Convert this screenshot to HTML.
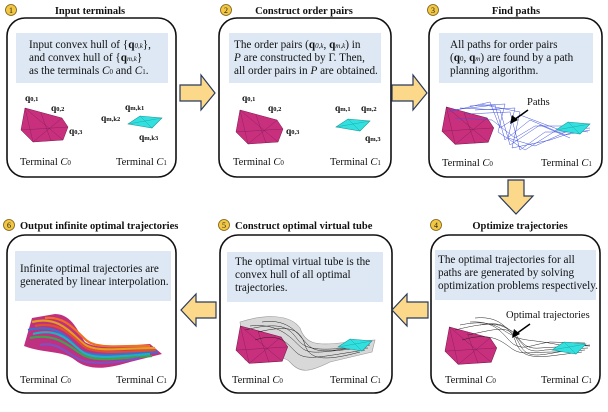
<!DOCTYPE html>
<html><head><meta charset="utf-8"><style>
body{margin:0;background:#fff}
svg{display:block;font-family:"Liberation Serif",serif}
.t{font-size:11.2px;fill:#111}
.h{font-size:10.5px;font-weight:bold;fill:#111}
.s{font-size:9.5px;fill:#111;font-weight:bold}
.l{font-size:10.5px;fill:#111}
</style></head><body>
<svg width="608" height="412" viewBox="0 0 608 412" xmlns="http://www.w3.org/2000/svg">
<defs>
<g id="mag"><polygon points="4,0 41,10 47,19 42,32 12,34 0,22" fill="#c8307e" stroke="#7a1a50" stroke-width="0.5"/><path d="M4,0 L42,32 M41,10 L12,34 M0,22 L47,19 M4,0 L12,34 M20,5 L30,33" stroke="#7a1a50" stroke-width="0.35" fill="none"/></g>
<g id="cy"><polygon points="0,10 12,2 34,4 24,14" fill="#33e0e0" stroke="#1a9a9a" stroke-width="0.6"/><path d="M0,10 L34,4 M12,2 L24,14" stroke="#1a9a9a" stroke-width="0.4"/></g>
</defs>
<g fill="none" stroke="#111" stroke-width="1.6">
<rect x="7" y="18" width="169" height="159" rx="18"/>
<rect x="219" y="18" width="172" height="159" rx="18"/>
<rect x="429" y="18" width="173" height="159" rx="18"/>
<rect x="7" y="235" width="169" height="158" rx="18"/>
<rect x="220" y="235" width="172" height="158" rx="18"/>
<rect x="431" y="235" width="169" height="158" rx="18"/>
</g>
<g fill="#dde8f4">
<rect x="16" y="33" width="152" height="50"/>
<rect x="229" y="33" width="152" height="50"/>
<rect x="439" y="33" width="154" height="50"/>
<rect x="15" y="251" width="156" height="50"/>
<rect x="227" y="252" width="156" height="50"/>
<rect x="435" y="250" width="161" height="50"/>
</g>
<g fill="#fbd88a" stroke="#2a3a5a" stroke-width="1.2">
<polygon points="180,85 201,85 201,75 215,93 201,110 201,101 180,101"/>
<polygon points="392,85 413,85 413,75 427,93 413,110 413,101 392,101"/>
<polygon points="508,180 524,180 524,196 533,196 516,214 499,196 508,196"/>
<polygon points="428,302 407,302 407,294 392,310 407,326 407,318 428,318"/>
<polygon points="216,302 196,302 196,294 181,310 196,326 196,318 216,318"/>
</g>
<g fill="#f2c744" stroke="#7a5a10" stroke-width="0.8">
<circle cx="11" cy="10" r="5.5"/><circle cx="226" cy="10" r="5.5"/><circle cx="433" cy="10" r="5.5"/>
<circle cx="9" cy="225" r="5.5"/><circle cx="224" cy="225" r="5.5"/><circle cx="436" cy="225" r="5.5"/>
</g>
<g font-size="8" text-anchor="middle" fill="#222">
<text x="11" y="13">1</text><text x="226" y="13">2</text><text x="433" y="13">3</text>
<text x="9" y="228">6</text><text x="224" y="228">5</text><text x="436" y="228">4</text>
</g>
<text class="h" x="90" y="14" text-anchor="middle">Input terminals</text>
<text class="h" x="304" y="14" text-anchor="middle">Construct order pairs</text>
<text class="h" x="516" y="14" text-anchor="middle">Find paths</text>
<text class="h" x="20" y="229">Output infinite optimal trajectories</text>
<text class="h" x="235" y="229">Construct optimal virtual tube</text>
<text class="h" x="520" y="229" text-anchor="middle">Optimize trajectories</text>
<text class="t" x="29" y="48">Input convex hull of {<tspan font-weight="bold">q</tspan><tspan font-size="7" font-style="italic">0,k</tspan>},</text>
<text class="t" x="29" y="61">and convex hull of {<tspan font-weight="bold">q</tspan><tspan font-size="7" font-style="italic">m,k</tspan>}</text>
<text class="t" x="29" y="74">as the terminals <tspan font-style="italic">C</tspan><tspan font-size="7">0</tspan> and <tspan font-style="italic">C</tspan><tspan font-size="7">1</tspan>.</text>
<text class="t" x="234" y="48">The order pairs (<tspan font-weight="bold">q</tspan><tspan font-size="7" font-style="italic">0,k</tspan>, <tspan font-weight="bold">q</tspan><tspan font-size="7" font-style="italic">m,k</tspan>) in</text>
<text class="t" x="234" y="61"><tspan font-style="italic">P</tspan> are constructed by Γ. Then,</text>
<text class="t" x="234" y="74">all order pairs in <tspan font-style="italic">P</tspan> are obtained.</text>
<text class="t" x="450" y="48">All paths for order pairs</text>
<text class="t" x="450" y="61">(<tspan font-weight="bold">q</tspan><tspan font-size="7">0</tspan>, <tspan font-weight="bold">q</tspan><tspan font-size="7" font-style="italic">m</tspan>) are found by a path</text>
<text class="t" x="450" y="74">planning algorithm.</text>
<text class="t" x="20" y="272">Infinite optimal trajectories are</text>
<text class="t" x="20" y="285">generated by linear interpolation.</text>
<text class="t" x="235" y="265">The optimal virtual tube is the</text>
<text class="t" x="235" y="278">convex hull of all optimal</text>
<text class="t" x="235" y="291">trajectories.</text>
<text class="t" x="438" y="263">The optimal trajectories for all</text>
<text class="t" x="438" y="276">paths are generated by solving</text>
<text class="t" x="438" y="289">optimization problems respectively.</text>
<!-- panel 1 -->
<use href="#mag" x="21" y="108"/><use href="#cy" x="128" y="114"/>
<text class="s" x="25" y="101">q<tspan font-size="6.5">0,1</tspan></text>
<text class="s" x="51" y="111">q<tspan font-size="6.5">0,2</tspan></text>
<text class="s" x="69" y="134">q<tspan font-size="6.5">0,3</tspan></text>
<text class="s" x="125" y="110">q<tspan font-size="6.5">m,k1</tspan></text>
<text class="s" x="101" y="121">q<tspan font-size="6.5">m,k2</tspan></text>
<text class="s" x="139" y="140">q<tspan font-size="6.5">m,k3</tspan></text>
<text class="l" x="20" y="165">Terminal <tspan font-style="italic">C</tspan><tspan font-size="7">0</tspan></text>
<text class="l" x="116" y="165">Terminal <tspan font-style="italic">C</tspan><tspan font-size="7">1</tspan></text>
<!-- panel 2 -->
<use href="#mag" x="236" y="110"/><use href="#cy" x="336" y="117"/>
<text class="s" x="242" y="101">q<tspan font-size="6.5">0,1</tspan></text>
<text class="s" x="268" y="111">q<tspan font-size="6.5">0,2</tspan></text>
<text class="s" x="286" y="134">q<tspan font-size="6.5">0,3</tspan></text>
<text class="s" x="335" y="111">q<tspan font-size="6.5">m,1</tspan></text>
<text class="s" x="361" y="111">q<tspan font-size="6.5">m,2</tspan></text>
<text class="s" x="365" y="141">q<tspan font-size="6.5">m,3</tspan></text>
<text class="l" x="233" y="165">Terminal <tspan font-style="italic">C</tspan><tspan font-size="7">0</tspan></text>
<text class="l" x="330" y="165">Terminal <tspan font-style="italic">C</tspan><tspan font-size="7">1</tspan></text>
<!-- panel 3 -->
<use href="#mag" transform="translate(442,107) scale(1.1)"/>
<g stroke="#4050e0" stroke-width="0.5" fill="none">
<path d="M448,112 L490,102 L500,128 L520,115 L560,130 L590,128"/>
<path d="M452,110 L495,105 L505,140 L530,120 L565,135 L590,130"/>
<path d="M460,108 L500,110 L510,145 L540,125 L570,138"/>
<path d="M470,106 L505,104 L498,132 L525,150 L560,128 L588,132"/>
<path d="M455,118 L492,120 L515,138 L535,126 L575,126"/>
<path d="M465,114 L510,112 L520,150 L545,132 L580,132"/>
<path d="M475,110 L515,108 L508,138 L535,146 L570,130"/>
<path d="M480,104 L520,112 L512,148 L550,140 L585,128"/>
</g>
<use href="#cy" x="556" y="120"/>
<text class="l" x="527" y="105">Paths</text>
<path d="M528,110 L514,120" stroke="#000" stroke-width="1.5"/><polygon points="510,124 512,115 518,120" fill="#000"/>
<text class="l" x="442" y="166">Terminal <tspan font-style="italic">C</tspan><tspan font-size="7">0</tspan></text>
<text class="l" x="541" y="166">Terminal <tspan font-style="italic">C</tspan><tspan font-size="7">1</tspan></text>
<!-- panel 4 -->
<use href="#mag" transform="translate(445,327) scale(1.1)"/>
<g stroke="#222" stroke-width="0.5" fill="none">
<path d="M455,330 C495,320 500,325 510,330 S520,350 540,348 L590,345"/>
<path d="M460,325 C495,318 500,330 512,335 S522,355 545,350 L588,348"/>
<path d="M470,322 C500,320 505,340 515,345 S530,345 550,342 L585,343"/>
<path d="M462,340 C495,330 505,345 514,350 S530,352 555,352 L585,350"/>
<path d="M468,335 C500,328 510,325 515,340 S528,358 550,356 L582,352"/>
<path d="M475,318 C505,315 508,335 518,338 S535,340 560,345 L590,346"/>
<path d="M480,325 C505,320 512,330 520,345 S540,355 570,350"/>
</g>
<use href="#cy" x="552" y="340"/>
<text class="l" x="506" y="318">Optimal trajectories</text>
<path d="M530,324 L516,334" stroke="#000" stroke-width="1.5"/><polygon points="512,338 514,329 520,334" fill="#000"/>
<text class="l" x="445" y="383">Terminal <tspan font-style="italic">C</tspan><tspan font-size="7">0</tspan></text>
<text class="l" x="541" y="383">Terminal <tspan font-style="italic">C</tspan><tspan font-size="7">1</tspan></text>
<!-- panel 5 -->
<path d="M240,322 C265,314 290,314 300,328 C305,343 315,346 340,343 L375,340 L372,352 L330,362 C310,372 300,374 290,362 C280,352 260,362 245,360 Z" fill="#d8d8d8" stroke="#999" stroke-width="0.6"/>
<use href="#mag" transform="translate(236,326) scale(1.1)"/>
<g stroke="#222" stroke-width="0.5" fill="none">
<path d="M245,330 C285,320 290,330 298,340 S320,352 370,345"/>
<path d="M250,326 C285,322 295,345 305,350 S330,350 368,348"/>
<path d="M255,340 C285,330 290,350 300,355 S325,356 365,350"/>
<path d="M258,332 C288,325 300,328 305,345 S330,360 360,352"/>
<path d="M262,322 C290,318 298,335 308,345 S335,350 362,346"/>
</g>
<use href="#cy" x="338" y="337"/>
<text class="l" x="232" y="383">Terminal <tspan font-style="italic">C</tspan><tspan font-size="7">0</tspan></text>
<text class="l" x="330" y="383">Terminal <tspan font-style="italic">C</tspan><tspan font-size="7">1</tspan></text>
<!-- panel 6 -->
<path d="M32,318 L55,314 C72,314 78,332 85,342 C98,350 120,346 150,344 L162,354 L130,362 C110,368 90,372 75,360 C62,350 45,354 24,346 Z" fill="#c03080"/>
<g fill="none" stroke-width="2.2">
<path d="M32,322 C60,315 72,335 84,344 S120,348 155,348" stroke="#e0a020"/>
<path d="M28,330 C60,322 70,342 80,350 S120,354 158,352" stroke="#3d6fd0"/>
<path d="M30,338 C60,332 72,350 85,356 S120,358 152,356" stroke="#40a050"/>
<path d="M35,326 C62,320 75,340 85,347 S125,352 156,350" stroke="#e05030"/>
<path d="M40,345 C60,340 72,360 88,362 S120,362 140,358" stroke="#8050c0"/>
<path d="M33,334 C62,326 72,346 84,353 S122,356 150,354" stroke="#20b0c0"/>
<path d="M45,318 C65,316 75,330 86,340 S125,345 150,346" stroke="#f07020"/>
</g>
<text class="l" x="20" y="383">Terminal <tspan font-style="italic">C</tspan><tspan font-size="7">0</tspan></text>
<text class="l" x="116" y="383">Terminal <tspan font-style="italic">C</tspan><tspan font-size="7">1</tspan></text>
</svg>
</body></html>
